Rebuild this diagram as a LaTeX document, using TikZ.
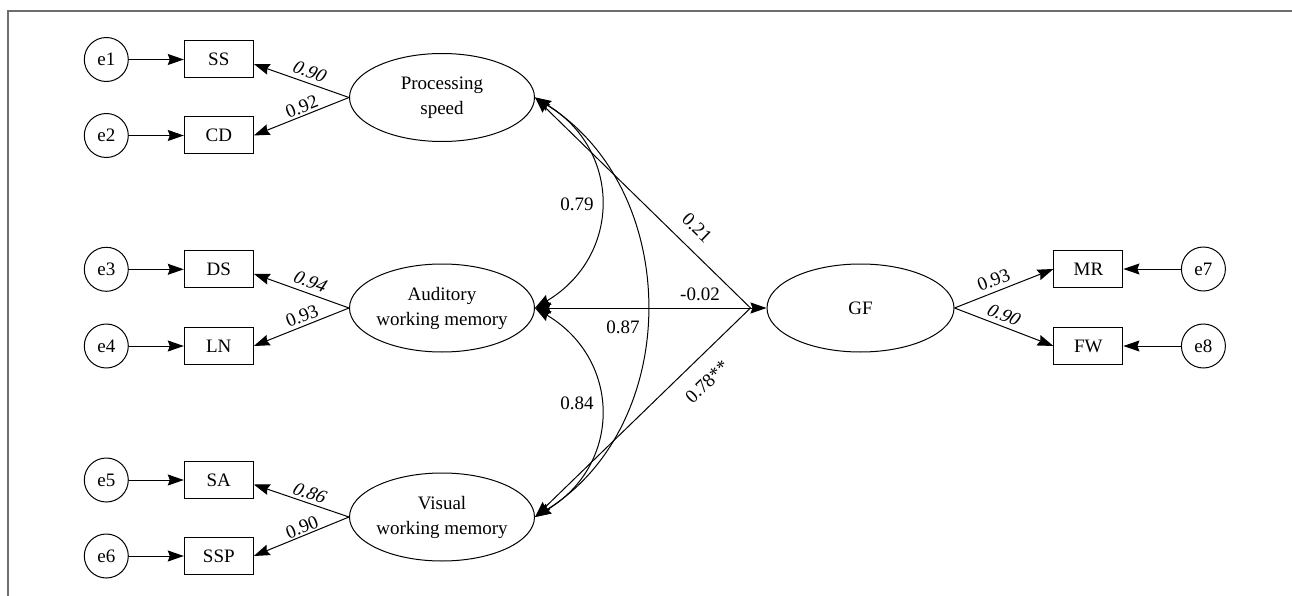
\documentclass[tikz,border=0pt]{standalone}
\usepackage{fontspec}
\setmainfont{Liberation Serif}
\usetikzlibrary{arrows.meta,shapes.geometric}
\definecolor{framegray}{RGB}{110,110,110}
\begin{document}
\begin{tikzpicture}[x=1pt,y=-1pt,
  base/.style={font=\fontsize{19}{25}\selectfont},
  err/.style={base,circle,draw,line width=1pt,minimum size=44pt,inner sep=0pt},
  obs/.style={base,rectangle,draw,line width=1pt,minimum width=69pt,minimum height=37pt,inner sep=0pt},
  lat/.style={base,ellipse,draw,line width=1pt,minimum width=185pt,minimum height=88pt,inner xsep=-8pt,inner ysep=-2pt,align=center},
  tip/.style={Stealth[length=16pt,width=11pt,inset=2pt]},
  arr/.style={line width=1pt,-{Stealth[length=16pt,width=11pt,inset=2pt]}},
  darr/.style={line width=1pt,{Stealth[length=16pt,width=11pt,inset=2pt]}-{Stealth[length=16pt,width=11pt,inset=2pt]}},
  lbl/.style={base,inner sep=1pt},
]
\useasboundingbox (0,0) rectangle (1292,596);
\draw[framegray,line width=1.4pt] (1300,11) -- (8,11) -- (8,604);

% error terms and indicators
\node[err] (e1) at (106.3,59.5) {e1};
\node[err] (e2) at (106.3,135.5) {e2};
\node[err] (e3) at (106.3,269.3) {e3};
\node[err] (e4) at (106.3,346) {e4};
\node[err] (e5) at (106.3,480) {e5};
\node[err] (e6) at (106.3,556) {e6};
\node[obs] (SS) at (218.8,59.5) {SS};
\node[obs] (CD) at (218.8,135.5) {CD};
\node[obs] (DS) at (218.8,269.3) {DS};
\node[obs] (LN) at (218.8,346) {LN};
\node[obs] (SA) at (218.8,480) {SA};
\node[obs] (SSP) at (218.8,556) {SSP};

% latent factors
\node[lat] (PS) at (442,97.5) {Processing\\speed};
\node[lat] (AWM) at (442,308) {Auditory\\working memory};
\node[lat] (VWM) at (442,517) {Visual\\working memory};
\node[lat,minimum width=187pt] (GF) at (860.5,308) {GF};

\node[obs] (MR) at (1088.4,269) {MR};
\node[obs] (FW) at (1088.4,346) {FW};
\node[err] (e7) at (1203.4,269) {e7};
\node[err] (e8) at (1203.4,346) {e8};

% error arrows
\foreach \e/\b in {e1/SS,e2/CD,e3/DS,e4/LN,e5/SA,e6/SSP,e7/MR,e8/FW}
  \draw[arr] (\e) -- (\b);

% loadings
\draw[arr] (PS.west) -- ([yshift=-4.5pt]SS.east);
\draw[arr] (PS.west) -- (CD.east);
\draw[arr] (AWM.west) -- ([yshift=-4.5pt]DS.east);
\draw[arr] (AWM.west) -- (LN.east);
\draw[arr] (VWM.west) -- ([yshift=-4.5pt]SA.east);
\draw[arr] (VWM.west) -- (SSP.east);
\draw[arr] (GF.east) -- (MR.west);
\draw[arr] (GF.east) -- (FW.west);

\node[lbl,rotate=-19,xslant=0.25] (l1) at (310,71.7) {0.90};
\node[lbl,rotate=21.6] (l2) at (301.8,106.7) {0.92};
\node[lbl,rotate=-19,xslant=0.25] (l3) at (310.7,281.7) {0.94};
\node[lbl,rotate=21.6] (l4) at (302,316) {0.93};
\node[lbl,rotate=-19,xslant=0.25] (l5) at (310,493.3) {0.86};
\node[lbl,rotate=21.6] (l6) at (302,527.3) {0.90};
\node[lbl,rotate=21.5] (l7) at (993.6,280) {0.93};
\node[lbl,rotate=-21.5,xslant=0.25] (l8) at (1004.3,315) {0.90};

% covariances
\draw[darr] (PS.east) .. controls (622,150) and (622,256) .. (AWM.east);
\draw[darr] (AWM.east) .. controls (622,360) and (622,465) .. (VWM.east);
\draw[darr] (PS.east) .. controls (683,190) and (683,425) .. (VWM.east);
\draw[darr] (AWM.east) -- (GF.west);
\coordinate (gfin) at ([xshift=-16pt]GF.west);
\draw[arr] (gfin) -- (PS.east);
\draw[arr] (gfin) -- (VWM.east);

\node[lbl] (c1) at (577,204) {0.79};
\node[lbl] (c2) at (623,327) {0.87};
\node[lbl] (c3) at (577,403) {0.84};
\node[lbl] (c4) at (700,294) {-0.02};
\node[lbl,rotate=-44] (c5) at (697,228) {0.21};
\node[lbl,rotate=44] (c6) at (707,382) {0.78**};
\end{tikzpicture}
\end{document}
